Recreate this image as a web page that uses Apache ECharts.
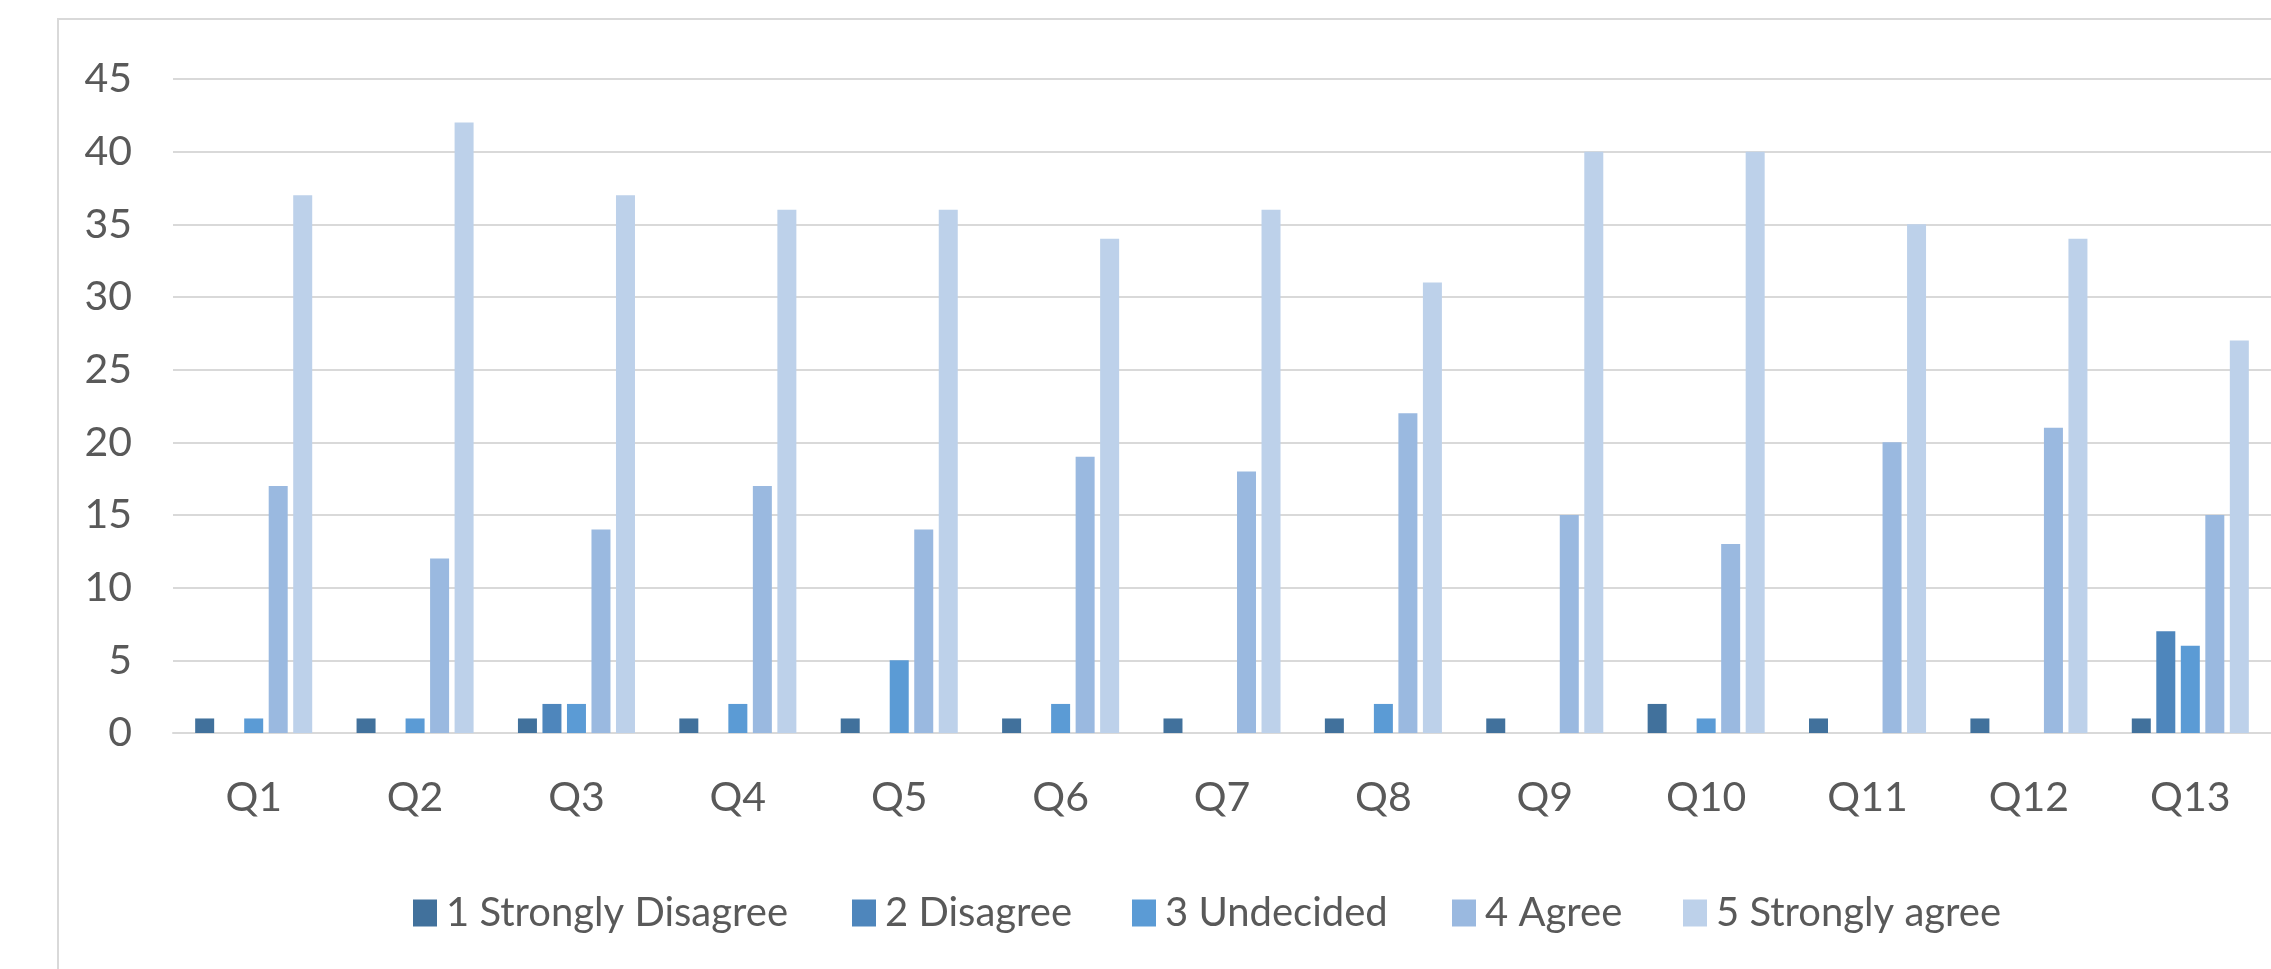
<!DOCTYPE html>
<html>
<head>
<meta charset="utf-8">
<script src="https://cdn.jsdelivr.net/npm/echarts@6/dist/echarts.min.js"></script>
<style>
html,body{margin:0;padding:0;background:#fff;}
#c{width:2271px;height:969px;}
</style>
</head>
<body>
<div id="c"></div>
<script>
const categories = ['Q1','Q2','Q3','Q4','Q5','Q6','Q7','Q8','Q9','Q10','Q11','Q12','Q13'];
const seriesNames = ['1 Strongly Disagree','2 Disagree','3 Undecided','4 Agree','5 Strongly agree'];
const stronglyDisagree = [1,1,1,1,1,1,1,1,1,2,1,1,1];
const disagree        = [0,0,2,0,0,0,0,0,0,0,0,0,7];
const undecided       = [1,1,2,2,5,2,0,2,0,1,0,0,6];
const agree           = [17,12,14,17,14,19,18,22,15,13,20,21,15];
const stronglyAgree   = [37,42,37,36,36,34,36,31,40,40,35,34,27];
const yTicks = {min:0, max:45, interval:5};

const colors = ['#41719C','#4E86BC','#5B9BD5','#9AB9E0','#BDD1EA'];
const legendLeft = [408, 847, 1127, 1447, 1678];
const font = 'Lato, "Liberation Sans", sans-serif';
const allValues = [stronglyDisagree, disagree, undecided, agree, stronglyAgree];

const chart = echarts.init(document.getElementById('c'));
chart.setOption({
  animation:false,
  backgroundColor:'#fff',
  graphic:[{type:'rect', shape:{x:58,y:19,width:2400,height:1100}, style:{fill:'none',stroke:'#D9D9D9',lineWidth:2}, silent:true}],
  grid:{left:173, right:-7, top:79, bottom:236, containLabel:false},
  legend: seriesNames.map((n,i)=>({
    left:legendLeft[i], top:888, itemWidth:24, itemHeight:27,
    icon:'rect',
    textStyle:{fontFamily:font, fontSize:40, color:'#595959', padding:[0,0,0,4]},
    data:[n]
  })),
  xAxis:{
    type:'category', data:categories,
    axisLine:{lineStyle:{color:'#D9D9D9', width:2}},
    axisTick:{show:false},
    axisLabel:{fontFamily:font, fontSize:41, color:'#595959', margin:44}
  },
  yAxis:{
    type:'value', min:yTicks.min, max:yTicks.max, interval:yTicks.interval,
    axisLine:{show:false}, axisTick:{show:false},
    splitLine:{lineStyle:{color:'#D9D9D9', width:2}},
    axisLabel:{fontFamily:font, fontSize:41, color:'#595959', margin:41}
  },
  series: seriesNames.map((n,i)=>({
    name:n, type:'bar', data:allValues[i],
    barWidth:19, barGap:'29%',
    itemStyle:{color:colors[i]}
  }))
});
</script>
</body>
</html>
